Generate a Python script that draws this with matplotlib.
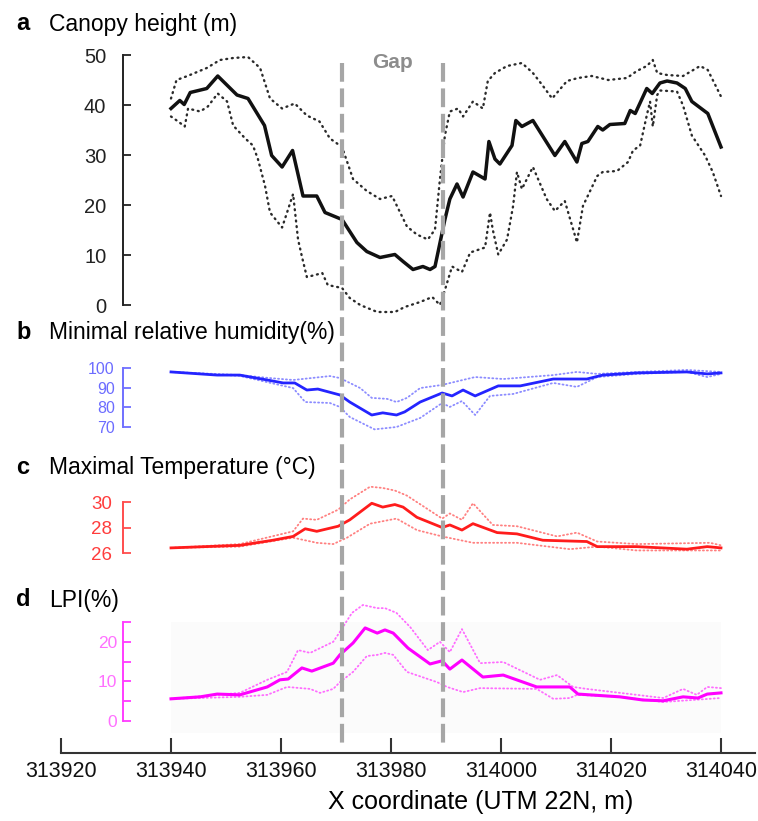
import matplotlib.pyplot as plt
from matplotlib.patches import Rectangle

# Transect along X (UTM 22N, m): mean and envelope of each variable

# a - canopy height (m)
canopy_x = [313940, 313941.6, 313942.4, 313943.5, 313946.5, 313948.5, 313952, 313954, 313957, 313958.3,
            313960.2, 313962.1, 313964, 313966.5, 313968, 313971.1, 313973.8, 313975.6, 313978, 313980.7,
            313982.2, 313984, 313985.8, 313987.1, 313988, 313989.8, 313990.7, 313992, 313993.1, 313994.9,
            313997.1, 313997.8, 313998.9, 313999.8, 314002, 314002.7, 314003.8, 314005.8, 314009.8, 314011.6,
            314013.8, 314014.7, 314015.8, 314017.6, 314018.5, 314019.8, 314022.5, 314023.5, 314024.4, 314026.5,
            314027.5, 314028.9, 314030.2, 314032, 314033.5, 314034.7, 314037.6, 314040]
canopy_mean = [39.3, 40.9, 40.1, 42.5, 43.3, 45.8, 42, 41.3, 35.9, 29.9,
               27.6, 30.9, 21.8, 21.8, 18.5, 17.1, 12.5, 10.7, 9.5, 10.1,
               8.7, 7.1, 7.7, 7.1, 7.7, 17.1, 21.2, 24.2, 21.6, 26.6,
               25.2, 32.7, 29.2, 28.2, 31.9, 36.9, 35.7, 36.9, 29.9, 32.7,
               28.6, 32.3, 32.7, 35.7, 35, 36.1, 36.3, 38.9, 38.3, 43.3,
               42.3, 44.4, 44.8, 44.4, 43.3, 40.7, 38.3, 31.6]

canopy_hi_x = [313940, 313941, 313943, 313946.5, 313948.9, 313951.3, 313954, 313956.2, 313958, 313960.2,
               313962.5, 313964.7, 313967, 313968.9, 313971.1, 313973.1, 313975.6, 313978, 313980.2, 313982.9,
               313984.7, 313986.7, 313988, 313988.9, 313989.8, 313990.7, 313992.2, 313993.1, 313994.9, 313996.7,
               313997.6, 313998.9, 314001.1, 314003.8, 314005.8, 314007.5, 314009.3, 314012, 314014, 314016.5,
               314019.5, 314022.9, 314024.7, 314026.5, 314027.6, 314028.4, 314030.2, 314033.1, 314036.2, 314037.6,
               314040]
canopy_hi = [41.3, 45, 45.8, 47.4, 49, 49.4, 49.6, 47.4, 41.3, 39.3,
             40.3, 37.9, 36.7, 33.3, 31.6, 25.2, 22.8, 21.2, 21.8, 15.7,
             14.1, 13.1, 15.1, 25.2, 33.9, 38.7, 39.3, 37.7, 40.7, 39.3,
             44.8, 46.4, 47.8, 48.4, 46.4, 44, 41.3, 44.8, 45.4, 45.8,
             45, 45.4, 46.8, 47.8, 49, 46.4, 46, 45.8, 47.8, 47,
             41.7]

canopy_lo_x = [313940, 313941.3, 313942.5, 313943.1, 313945.3, 313946.7, 313948.5, 313950.2, 313951.3, 313953.5,
               313954.9, 313955.8, 313957.1, 313958, 313960.2, 313961.1, 313962.2, 313963.1, 313963.8, 313964.7,
               313966.2, 313967.5, 313968.5, 313971.1, 313972.5, 313974.4, 313977.5, 313980.7, 313982.5, 313985.3,
               313987.5, 313988.9, 313989.8, 313991.1, 313992.9, 313994.4, 313997.1, 313998, 313998.5, 313999.5,
               314001.1, 314002.2, 314002.9, 314003.8, 314005.8, 314008.3, 314009.8, 314011.6, 314013.5, 314013.8,
               314014.9, 314017.5, 314018.5, 314021.1, 314023.1, 314024, 314025.3, 314026.5, 314027.1, 314027.6,
               314028.4, 314028.9, 314032, 314033.1, 314034.7, 314037.1, 314038.5, 314040]
canopy_lo = [37.7, 36.7, 35.7, 39.3, 38.7, 39.7, 42.3, 40.7, 35.9, 33.3,
             31.9, 29.2, 23.8, 18.5, 15.5, 18.5, 22.2, 13.1, 9.7, 5.6,
             6, 6.4, 4, 3.4, 1.4, 0, -1.4, -1.4, -0.4, 0.6,
             1.6, 0, 3, 7.7, 6.6, 10.5, 11.5, 18.5, 15.1, 10.1,
             13.1, 19.8, 26.6, 23.2, 27.6, 21.2, 18.8, 20.8, 13.7, 12.5,
             19.8, 25.8, 26.6, 26.8, 28.6, 30.9, 31.9, 37.9, 40.7, 35.7,
             42, 42.9, 42.7, 39.9, 33.9, 29.9, 26.6, 21.8]

# b - minimal relative humidity (%)
hum_x = [313940, 313948.4, 313952.5, 313957.5, 313960.4, 313962.5, 313964.7, 313966.7, 313970.7, 313972.5,
         313976.5, 313978.5, 313981, 313982.5, 313985.3, 313989.3, 313991.1, 313993.1, 313995.3, 313999.5,
         314003.5, 314009.5, 314015.6, 314018.5, 314024.7, 314033.8, 314037.5, 314040]
hum_mean = [98, 96.4, 96.4, 93.9, 92.4, 92.4, 88.8, 89.3, 86.3, 82.7,
            76.1, 77.2, 76.1, 77.7, 82.7, 87.3, 85.8, 88.8, 85.8, 90.9,
            90.9, 94.4, 94.4, 96.4, 97.5, 98, 97, 97.5]
hum_hi_x = [313940, 313952.5, 313957.5, 313962.2, 313968.9, 313970.7, 313974.4, 313976.5, 313979.3, 313981,
            313982.9, 313985.3, 313989.3, 313995.3, 314000.4, 314009.5, 314013.8, 314017.5, 314024.7, 314033.8,
            314040]
hum_hi = [98, 96.4, 95, 93.9, 95.9, 94.9, 89.8, 84.8, 84.3, 82.7,
          84.8, 89.8, 91.4, 95.4, 94.4, 96.4, 98, 97, 98, 99,
          98]
hum_lo_x = [313940, 313952.5, 313962.2, 313964.4, 313968.9, 313970.7, 313972.5, 313977, 313981, 313985.3,
            313989.3, 313990.7, 313992.9, 313995.3, 313998, 314002.2, 314009.5, 314013.8, 314017.5, 314024.7,
            314033.8, 314037.5, 314040]
hum_lo = [98, 96, 89.8, 82.7, 82.2, 80.2, 75.1, 68.8, 70, 74.6,
          82.2, 80.2, 83.2, 76.1, 85.8, 86.8, 92.4, 90.4, 95.4, 97,
          98, 95.4, 97]

# c - maximal temperature (°C)
temp_x = [313940, 313952.5, 313958.5, 313962.2, 313964.4, 313966.5, 313970.4, 313972.5, 313976.5, 313978.5,
          313980.7, 313982.2, 313984.7, 313989.3, 313990.7, 313992.9, 313994.9, 313999.3, 314002.9, 314007.6,
          314015.6, 314017.5, 314024.7, 314033.8, 314037.5, 314040]
temp_mean = [26.4, 26.6, 27, 27.3, 27.9, 27.7, 28.1, 28.6, 29.9, 29.6,
             29.8, 29.6, 28.8, 28, 28.2, 27.8, 28.3, 27.6, 27.5, 27,
             26.9, 26.5, 26.5, 26.3, 26.5, 26.4]
temp_hi_x = [313940, 313952.5, 313962.2, 313964, 313966.5, 313970.4, 313972.5, 313976.2, 313978.5, 313980.7,
             313982.9, 313989.3, 313990.7, 313992.9, 313994.9, 313998.5, 314002.9, 314010.2, 314013.8, 314017.5,
             314024.7, 314038, 314040]
temp_hi = [26.4, 26.7, 27.7, 28.7, 28.6, 29.4, 30.2, 31.2, 31.1, 30.9,
           30.5, 28.7, 29.1, 28.6, 29.9, 28.2, 28.1, 27.3, 27.6, 26.9,
           26.7, 26.8, 26.6]
temp_lo_x = [313940, 313952.5, 313962.2, 313966.5, 313969.5, 313972, 313976.2, 313981, 313984.7, 313989.3,
             313994.9, 314002.9, 314012.5, 314017.5, 314024.7, 314040]
temp_lo = [26.4, 26.5, 27.2, 26.8, 26.7, 27.2, 28.3, 28.7, 27.8, 27.3,
           26.8, 26.8, 26.3, 26.5, 26.2, 26.2]

# d - LPI (%)
lpi_x = [313940, 313945.3, 313948.4, 313952.5, 313957.5, 313959.8, 313961.3, 313963.8, 313965.6, 313969.5,
         313970.7, 313973.1, 313975.3, 313977.5, 313978.9, 313980.4, 313983.1, 313987.1, 313989.3, 313990.7,
         313992.9, 313996.7, 314000.4, 314006.5, 314012.5, 314014, 314021.6, 314025.8, 314029.5, 314033.1,
         314035.8, 314037.5, 314040]
lpi_mean = [5.6, 6.1, 6.8, 6.6, 8.6, 10.4, 10.6, 13.4, 12.6, 14.6,
            16.7, 19.7, 23.5, 22.2, 23, 22.2, 18.4, 14.4, 15.2, 13.1,
            15.4, 11.1, 11.6, 8.6, 8.6, 6.8, 6.1, 5.3, 5.1, 6.1,
            5.8, 6.8, 7.1]
lpi_hi_x = [313940, 313952.5, 313957.5, 313961.1, 313963.1, 313965.3, 313969.5, 313970.7, 313972.9, 313974.9,
            313977.5, 313978.9, 313981, 313983.5, 313986.7, 313988.9, 313990.7, 313992.9, 313996.2, 314000.4,
            314007.1, 314010.2, 314013.1, 314015.6, 314024.7, 314029.5, 314033.1, 314035.6, 314037.5, 314040]
lpi_hi = [5.6, 7.1, 10.4, 12.4, 17.9, 17.2, 20, 22.5, 27.3, 29.3,
          28.5, 28.5, 27.3, 23.7, 17.9, 20, 17.4, 23.2, 14.6, 14.9,
          10.4, 11.6, 8.6, 8.1, 6.6, 5.8, 8.1, 6.6, 8.6, 8.3]
lpi_lo_x = [313940, 313952.5, 313957.5, 313961.1, 313965.3, 313967.1, 313969.5, 313970.7, 313973.1, 313975.6,
            313977.5, 313978.9, 313980.4, 313982.9, 313988.4, 313990.2, 313993.1, 313996.2, 314006.5, 314009.5,
            314012.5, 314013.8, 314021.6, 314029.5, 314040]
lpi_lo = [5.6, 6.1, 6.6, 8.6, 8.1, 7.1, 8.1, 9.8, 12.4, 16.4,
          16.7, 17.2, 16.7, 12.4, 9.8, 8.6, 7.3, 8.3, 8.1, 5.6,
          5.8, 6.6, 6.1, 4.8, 5.8]

gap_edges = [313971, 313989.5]
x_ticks = [313920, 313940, 313960, 313980, 314000, 314020, 314040]

plt.rcParams['font.family'] = ['Liberation Sans', 'DejaVu Sans']

W, H = 758, 821
X_LEFT_PX, X_RIGHT_PX = 61, 755
PX_PER_M = 5.5
X_MIN = 313920
X_MAX = X_MIN + (X_RIGHT_PX - X_LEFT_PX) / PX_PER_M
Y_SPINE_X = X_MIN + (123 - X_LEFT_PX) / PX_PER_M


def panel(fig, top_px, bot_px, v0, p0, v1, p1):
    # axes covering a horizontal band, with value v0 at pixel p0 and v1 at p1
    ax = fig.add_axes([X_LEFT_PX / W, 1 - bot_px / H,
                       (X_RIGHT_PX - X_LEFT_PX) / W, (bot_px - top_px) / H])
    scale = (p0 - p1) / (v1 - v0)
    ax.set_ylim(v0 - (bot_px - p0) / scale, v0 + (p0 - top_px) / scale)
    ax.set_xlim(X_MIN, X_MAX)
    ax.patch.set_visible(False)
    for s in ['top', 'right', 'bottom']:
        ax.spines[s].set_visible(False)
    ax.spines['left'].set_position(('data', Y_SPINE_X))
    ax.set_xticks([])
    return ax


def style_y(ax, lo, hi, color, labelcolor, size, pad):
    ax.spines['left'].set_bounds(lo, hi)
    ax.spines['left'].set_color(color)
    ax.spines['left'].set_linewidth(1.4)
    ax.tick_params(axis='y', which='both', direction='in', length=5.5, width=1.3,
                   color=color, labelcolor=labelcolor, labelsize=size, pad=pad)


def envelope(ax, xm, ym, xh, yh, xl, yl, c_mean, c_env, lw_mean, lw_env, dots):
    for xs, ys in [(xh, yh), (xl, yl)]:
        ax.plot(xs, ys, color=c_env, lw=lw_env, linestyle=(0, dots),
                dash_capstyle='round')
    ax.plot(xm, ym, color=c_mean, lw=lw_mean, solid_joinstyle='round')


fig = plt.figure(figsize=(W / 100, H / 100), dpi=100)

# a
ax_a = panel(fig, 35, 322, 0, 305, 50, 55)
envelope(ax_a, canopy_x, canopy_mean, canopy_hi_x, canopy_hi, canopy_lo_x, canopy_lo,
         '#111111', '#2a2a2a', 2.5, 1.7, (0.4, 2.0))
ax_a.set_yticks([0, 10, 20, 30, 40, 50])
style_y(ax_a, 0, 50, '#222222', '#222222', 14.5, 12)

# b
ax_b = panel(fig, 355, 442, 70, 427, 100, 368)
envelope(ax_b, hum_x, hum_mean, hum_hi_x, hum_hi, hum_lo_x, hum_lo,
         '#2424ff', '#8c8cff', 2.0, 1.3, (0.6, 1.6))
ax_b.set_yticks([70, 80, 90, 100])
style_y(ax_b, 70, 100, '#7070ff', '#6c6cff', 11.5, 6)

# c
ax_c = panel(fig, 480, 566, 26, 553, 30, 502)
envelope(ax_c, temp_x, temp_mean, temp_hi_x, temp_hi, temp_lo_x, temp_lo,
         '#ff1c1c', '#ff8080', 2.0, 1.3, (0.6, 1.6))
ax_c.set_yticks([26, 28, 30])
style_y(ax_c, 26, 30, '#ff4d4d', '#ff3c3c', 13.5, 8)

# d
ax_d = panel(fig, 590, 753, 0, 721, 25, 622)
ax_d.add_patch(Rectangle((313940, -3), 100, 28, facecolor='#fbfbfb', edgecolor='none', zorder=0))
envelope(ax_d, lpi_x, lpi_mean, lpi_hi_x, lpi_hi, lpi_lo_x, lpi_lo,
         '#ff00ff', '#ff6cff', 2.2, 1.3, (0.6, 1.6))
ax_d.set_yticks([0, 10, 20])
ax_d.set_yticks([5, 15, 25], minor=True)
style_y(ax_d, 0, 25, '#ff3cff', '#ff70ff', 12.5, 4)

# shared x axis at the bottom
ax_d.spines['bottom'].set_visible(True)
ax_d.spines['bottom'].set_bounds(X_MIN, X_MAX)
ax_d.spines['bottom'].set_linewidth(1.5)
ax_d.spines['bottom'].set_color('#333333')
ax_d.set_xticks(x_ticks, [str(t) for t in x_ticks])
ax_d.tick_params(axis='x', direction='in', length=11, width=1.5, color='#333333',
                 labelsize=15.5, pad=6, labelcolor='#111111')

# gap limits drawn across all panels
ax_top = fig.add_axes([X_LEFT_PX / W, 0, (X_RIGHT_PX - X_LEFT_PX) / W, 1])
ax_top.set_xlim(X_MIN, X_MAX)
ax_top.set_ylim(H, 0)
ax_top.axis('off')
ax_top.patch.set_visible(False)
for g in gap_edges:
    ax_top.plot([g, g], [63, 745], color='#a6a6a6', lw=3, linestyle=(0, (4.5, 1.6)))
ax_top.text(sum(gap_edges) / 2, 62, 'Gap', color='#8c8c8c', fontsize=15, fontweight='bold',
            ha='center', va='center')

# panel titles
titles = [('a', 'Canopy height (m)', 24), ('b', 'Minimal relative humidity(%)', 332),
          ('c', 'Maximal Temperature (°C)', 467), ('d', 'LPI(%)', 600)]
for letter, txt, y in titles:
    fig.text(16 / W, 1 - y / H, letter, fontsize=17, fontweight='bold', va='center', ha='left')
    fig.text(49 / W, 1 - y / H, txt, fontsize=16.5, va='center', ha='left')

fig.text(481 / W, 1 - 802 / H, 'X coordinate (UTM 22N, m)', fontsize=18, ha='center', va='center')

fig.savefig('out.png', dpi=100)
